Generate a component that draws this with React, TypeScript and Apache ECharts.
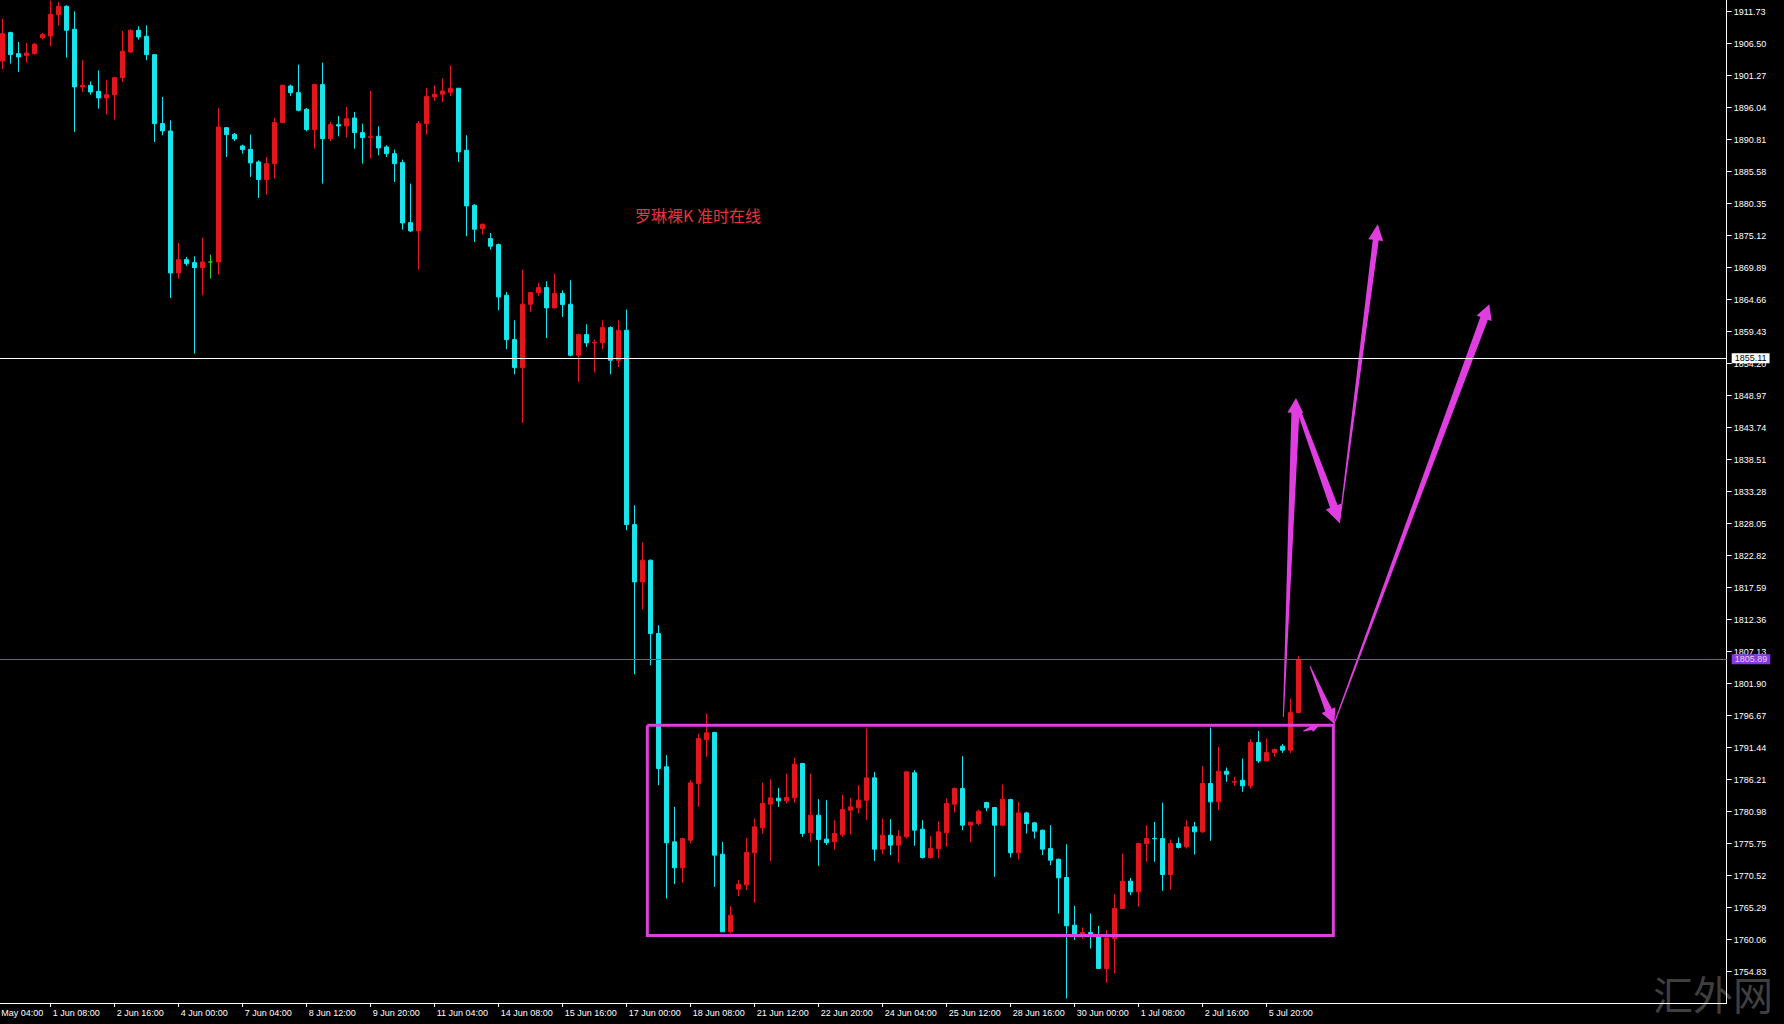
import React, { useEffect, useRef } from "react";
import * as echarts from "echarts";

// ---------- data ----------
const xTickLabels = [
  "31 May 04:00", "1 Jun 08:00", "2 Jun 16:00", "4 Jun 00:00", "7 Jun 04:00", "8 Jun 12:00",
  "9 Jun 20:00", "11 Jun 04:00", "14 Jun 08:00", "15 Jun 16:00", "17 Jun 00:00", "18 Jun 08:00",
  "21 Jun 12:00", "22 Jun 20:00", "24 Jun 04:00", "25 Jun 12:00", "28 Jun 16:00", "30 Jun 00:00",
  "1 Jul 08:00", "2 Jul 16:00", "5 Jul 20:00",
];
const labelEvery = 8;
const leadBars = 2;
const slotCount = 218;

const yTicks = [
  1754.83, 1760.06, 1765.29, 1770.52, 1775.75, 1780.98, 1786.21, 1791.44, 1796.67, 1801.9,
  1807.13, 1812.36, 1817.59, 1822.82, 1828.05, 1833.28, 1838.51, 1843.74, 1848.97, 1854.2,
  1859.43, 1864.66, 1869.89, 1875.12, 1880.35, 1885.58, 1890.81, 1896.04, 1901.27, 1906.5, 1911.73,
];
const yMin = 1749.72;
const yMax = 1913.64;

// [open, close, low, high]
const candles = [
  [1903.68, 1908.14, 1902.31, 1910.59], [1908.31, 1904.71, 1903.24, 1908.45], [1904.87, 1904.33, 1901.88, 1906.78],
  [1904.55, 1904.98, 1903.4, 1906.62], [1904.87, 1906.4, 1904.71, 1906.62], [1907.49, 1907.98, 1907.16, 1908.25],
  [1907.76, 1911.3, 1906.07, 1913.55], [1911.25, 1912.61, 1909.5, 1913.3], [1912.61, 1908.69, 1904.22, 1912.77],
  [1908.85, 1899.43, 1892.07, 1911.79], [1899.43, 1899.7, 1898.61, 1903.79], [1899.7, 1898.61, 1898.17, 1900.35],
  [1898.72, 1897.63, 1895.89, 1902.15], [1897.63, 1898.17, 1894.91, 1900.52], [1898.17, 1900.95, 1894.09, 1901.1],
  [1900.95, 1905.26, 1900.24, 1908.58], [1905.15, 1908.69, 1904.98, 1908.8], [1908.69, 1907.6, 1907.16, 1909.34],
  [1907.71, 1904.71, 1903.79, 1909.5], [1904.71, 1893.44, 1890.44, 1904.8], [1893.44, 1892.24, 1891.53, 1897.79],
  [1892.24, 1869.03, 1864.95, 1893.98], [1869.03, 1871.21, 1868.11, 1873.94], [1871.21, 1870.56, 1870.18, 1871.65],
  [1870.72, 1869.9, 1855.85, 1871.76], [1869.9, 1870.83, 1865.38, 1874.81], [1870.83, 1870.83, 1868.11, 1872.03],
  [1870.83, 1892.89, 1868.76, 1896.0], [1892.78, 1891.64, 1887.99, 1892.89], [1891.69, 1890.93, 1890.6, 1891.91],
  [1889.79, 1889.19, 1888.53, 1890.0], [1889.24, 1887.01, 1884.72, 1891.64], [1887.17, 1884.29, 1881.29, 1887.44],
  [1884.29, 1886.9, 1881.83, 1887.99], [1886.9, 1893.6, 1884.45, 1894.42], [1893.6, 1899.7, 1893.5, 1899.8],
  [1899.59, 1898.5, 1897.96, 1899.81], [1898.5, 1895.61, 1895.45, 1903.08], [1895.78, 1892.46, 1892.18, 1896.0],
  [1892.46, 1899.81, 1889.35, 1899.97], [1899.81, 1890.98, 1883.63, 1903.4], [1890.98, 1893.27, 1890.55, 1893.71],
  [1893.27, 1893.05, 1891.37, 1894.69], [1893.05, 1894.25, 1891.15, 1896.16], [1894.36, 1891.97, 1889.35, 1895.34],
  [1891.97, 1891.15, 1886.9, 1893.44], [1891.2, 1891.31, 1887.72, 1898.77], [1891.37, 1889.46, 1888.26, 1893.0],
  [1889.62, 1888.53, 1887.99, 1889.9], [1888.53, 1886.9, 1883.9, 1889.19], [1887.06, 1877.2, 1876.11, 1887.55],
  [1877.26, 1875.9, 1875.73, 1883.63], [1875.9, 1893.44, 1869.58, 1893.87], [1893.44, 1897.9, 1891.64, 1899.26],
  [1897.79, 1898.23, 1897.14, 1899.7], [1898.23, 1898.77, 1896.98, 1900.79], [1898.56, 1899.21, 1897.96, 1902.97],
  [1899.21, 1888.81, 1887.18, 1899.3], [1889.08, 1879.99, 1875.03, 1891.53], [1880.1, 1876.17, 1874.1, 1880.26],
  [1876.28, 1876.99, 1875.3, 1877.1], [1874.65, 1873.4, 1872.85, 1875.57], [1873.67, 1865.11, 1862.94, 1873.83],
  [1865.39, 1858.14, 1856.56, 1865.93], [1858.14, 1853.57, 1852.48, 1861.3], [1853.57, 1863.92, 1844.52, 1869.58],
  [1863.92, 1865.82, 1862.66, 1865.93], [1865.82, 1866.64, 1865.28, 1867.46], [1866.64, 1863.32, 1858.41, 1867.67],
  [1863.32, 1865.66, 1863.21, 1868.93], [1865.66, 1863.86, 1861.85, 1866.2], [1863.92, 1855.58, 1855.42, 1867.84],
  [1855.58, 1858.96, 1851.22, 1859.12], [1858.96, 1857.6, 1856.94, 1860.65], [1857.6, 1857.71, 1852.75, 1858.14],
  [1857.65, 1860.1, 1856.56, 1861.3], [1860.1, 1854.76, 1852.48, 1860.32], [1854.76, 1859.67, 1853.68, 1861.3],
  [1859.67, 1827.91, 1826.99, 1863.04], [1827.91, 1818.54, 1803.45, 1831.07], [1818.54, 1822.08, 1814.08, 1824.97],
  [1822.08, 1810.1, 1804.92, 1822.2], [1810.1, 1788.04, 1785.32, 1811.46], [1788.32, 1775.9, 1766.8, 1790.22],
  [1776.06, 1771.81, 1769.14, 1781.78], [1771.81, 1776.6, 1769.36, 1776.7], [1776.33, 1785.7, 1775.79, 1786.14],
  [1785.59, 1792.95, 1781.78, 1793.76], [1792.78, 1793.87, 1789.95, 1797.03], [1793.93, 1773.88, 1768.71, 1794.04],
  [1774.04, 1761.35, 1761.3, 1776.06], [1761.35, 1764.08, 1761.08, 1765.55], [1768.33, 1769.14, 1767.18, 1769.8],
  [1769.03, 1774.32, 1768.16, 1776.71], [1774.26, 1778.51, 1766.09, 1779.87], [1778.35, 1782.32, 1777.42, 1785.7],
  [1782.22, 1783.25, 1772.9, 1786.3], [1783.2, 1782.76, 1781.78, 1784.88], [1782.76, 1783.31, 1782.32, 1787.23],
  [1783.25, 1788.75, 1782.43, 1789.84], [1788.86, 1777.42, 1776.88, 1788.97], [1777.53, 1780.42, 1776.06, 1787.23],
  [1780.42, 1776.44, 1772.14, 1783.03], [1776.5, 1775.95, 1775.52, 1782.87], [1776.06, 1777.42, 1774.81, 1779.6],
  [1777.2, 1781.34, 1776.88, 1783.74], [1781.23, 1781.78, 1777.26, 1783.25], [1781.62, 1782.87, 1780.69, 1785.32],
  [1782.87, 1786.52, 1779.6, 1794.58], [1786.52, 1774.86, 1772.9, 1787.5], [1774.86, 1777.15, 1774.04, 1779.87],
  [1777.15, 1775.52, 1773.88, 1779.76], [1775.52, 1776.99, 1772.63, 1777.97], [1776.88, 1787.5, 1776.6, 1787.6],
  [1787.34, 1777.97, 1775.41, 1787.77], [1778.13, 1773.5, 1773.34, 1779.6], [1773.5, 1774.97, 1773.34, 1777.04],
  [1774.97, 1777.69, 1773.34, 1779.44], [1777.53, 1782.32, 1775.24, 1783.14], [1782.22, 1784.78, 1780.85, 1784.94],
  [1784.78, 1778.78, 1777.97, 1790.06], [1778.78, 1779.27, 1775.95, 1779.33], [1779.06, 1781.07, 1778.78, 1781.34],
  [1782.49, 1781.62, 1781.07, 1782.6], [1781.67, 1778.78, 1770.34, 1781.78], [1778.78, 1783.03, 1778.62, 1785.43],
  [1782.97, 1774.26, 1773.5, 1783.1], [1774.26, 1780.79, 1773.17, 1782.59], [1780.79, 1779.05, 1777.42, 1780.96],
  [1779.16, 1777.8, 1776.6, 1779.32], [1777.96, 1774.86, 1773.88, 1778.07], [1774.97, 1773.06, 1772.24, 1778.78],
  [1773.22, 1770.17, 1764.34, 1773.33], [1770.23, 1762.33, 1750.45, 1775.67], [1762.44, 1760.97, 1759.99, 1765.6],
  [1760.8, 1761.24, 1760.26, 1762.06], [1761.24, 1760.7, 1758.63, 1764.34], [1760.8, 1755.36, 1755.3, 1762.33],
  [1755.36, 1760.37, 1753.01, 1761.62], [1760.26, 1765.16, 1754.54, 1767.5], [1765.16, 1769.63, 1765.1, 1774.15],
  [1769.63, 1767.89, 1767.34, 1770.17], [1767.89, 1775.78, 1765.43, 1775.9], [1775.78, 1776.6, 1772.79, 1778.78],
  [1776.62, 1776.55, 1772.79, 1779.32], [1776.6, 1770.72, 1768.05, 1782.48], [1770.72, 1775.78, 1768.27, 1776.44],
  [1775.78, 1775.13, 1774.97, 1776.76], [1775.24, 1778.51, 1774.97, 1779.6], [1778.51, 1777.69, 1773.99, 1779.32],
  [1777.69, 1785.59, 1777.53, 1788.42], [1785.59, 1782.59, 1776.22, 1794.74], [1782.59, 1787.6, 1781.23, 1791.58],
  [1787.6, 1787.11, 1785.86, 1788.2], [1785.81, 1785.92, 1785.21, 1786.68], [1786.13, 1785.21, 1784.23, 1789.67],
  [1785.21, 1792.29, 1784.77, 1792.83], [1792.29, 1789.29, 1788.96, 1794.19], [1789.29, 1790.65, 1789.2, 1792.94],
  [1790.65, 1791.14, 1789.95, 1791.31], [1791.69, 1791.04, 1790.6, 1792.02], [1791.04, 1797.19, 1790.6, 1799.48],
  [1797.19, 1805.89, 1797.1, 1806.4],
];

const refLevel = 1855.11;
const bidLevel = 1805.89;

// rectangle: bar-index span and price span
const boxBars = [80.58, 166.33];
const boxPrices = [1760.76, 1795.13];

// arrows: [fromBar, fromPrice, toBar, toPrice]
const arrows = [
  [160.08, 1796.47, 161.66, 1848.61],
  [162.08, 1846.32, 167.16, 1828.1],
  [167.16, 1828.84, 171.88, 1876.99],
  [166.33, 1795.03, 185.83, 1863.92],
  [163.41, 1804.77, 166.45, 1795.32],
  [162.58, 1794.16, 164.66, 1795.14],
];
// style per arrow: tail width, shaft width, head width, head length (px)
const arrowShapes = [
  [1, 8, 16, 15],
  [4, 8, 17, 18],
  [1, 6, 15, 16],
  [1, 8, 16, 15],
  [1, 7, 15, 15],
  [1, 4, 8, 9],
];

// ---------- styles ----------
const UP = "#e6141c";
const DOWN = "#16e4ee";
const DOJI = "#30d030";
const MAGENTA = "#e03ee0";
const PURPLE = "#6d4fe6";
const AXIS_FONT = "'Liberation Sans', Arial, sans-serif";
const OFFSET_X = 40;

const categories = Array.from({ length: slotCount }, (_, i) =>
  i % labelEvery === 0 && i / labelEvery < xTickLabels.length ? xTickLabels[i / labelEvery] : `b${i}`
);
const showTick = (i: number) => i % labelEvery === 0 && i / labelEvery < xTickLabels.length;

export default function App() {
  const ref = useRef<HTMLDivElement>(null);
  useEffect(() => {
    if (!ref.current) return;
    const chart = echarts.init(ref.current, null, { renderer: "svg" });
    const candleData = candles.map((c, k) => [categories[k + leadBars], c[0], c[1], c[2], c[3]]);
    const boxLine = [
      [boxBars[0], boxPrices[1]],
      [boxBars[1], boxPrices[1]],
      [boxBars[1], boxPrices[0]],
      [boxBars[0], boxPrices[0]],
      [boxBars[0], boxPrices[1]],
    ];
    const option: any = {
      animation: false,
      backgroundColor: "#000000",
      grid: { left: 22.7, top: 0, width: 1744, height: 1003, containLabel: false },
      xAxis: [
        {
          type: "category",
          data: categories,
          boundaryGap: true,
          axisLine: { show: true, onZero: false, lineStyle: { color: "#ffffff", width: 1 } },
          axisTick: {
            show: true,
            alignWithLabel: true,
            interval: (i: number) => showTick(i),
            length: 4,
            lineStyle: { color: "#ffffff" },
          },
          axisLabel: {
            interval: (i: number) => showTick(i),
            formatter: (v: string) => v,
            align: "left",
            margin: 5,
            padding: [0, 0, 0, 2],
            color: "#ffffff",
            fontSize: 9,
            fontFamily: AXIS_FONT,
          },
          splitLine: { show: false },
        },
        {
          type: "value",
          show: false,
          min: -leadBars - 0.5,
          max: slotCount - leadBars - 0.5,
          axisLine: { show: false, onZero: false },
          axisTick: { show: false },
          axisLabel: { show: false },
          splitLine: { show: false },
        },
      ],
      yAxis: {
        type: "value",
        position: "right",
        min: yMin,
        max: yMax,
        splitLine: { show: false },
        minorTick: { show: false },
        axisLine: { show: true, onZero: false, lineStyle: { color: "#ffffff", width: 1 } },
        axisTick: { show: true, inside: false, length: 5, customValues: yTicks, lineStyle: { color: "#ffffff" } },
        axisLabel: {
          customValues: yTicks,
          formatter: (v: number) => v.toFixed(2),
          margin: 7,
          color: "#ffffff",
          fontSize: 9,
          fontFamily: AXIS_FONT,
        },
      },
      series: [
        {
          type: "candlestick",
          xAxisIndex: 0,
          yAxisIndex: 0,
          data: candleData,
          encode: { x: 0, y: [1, 2, 3, 4] },
          barWidth: 4,
          itemStyle: {
            color: UP,
            color0: DOWN,
            borderColor: UP,
            borderColor0: DOWN,
            borderColorDoji: DOJI,
            borderWidth: 1,
          },
          markLine: {
            silent: true,
            symbol: ["none", "none"],
            data: [
              {
                yAxis: refLevel,
                lineStyle: { color: "#ffffff", width: 1, type: "solid" },
                label: {
                  show: true,
                  position: "end",
                  distance: 5,
                  formatter: (p: any) => Number(p.value).toFixed(2),
                  backgroundColor: "#ffffff",
                  color: "#000000",
                  padding: [1, 3, 0, 3],
                  fontSize: 9,
                  fontFamily: AXIS_FONT,
                },
              },
              {
                yAxis: bidLevel,
                lineStyle: { color: PURPLE, width: 1, type: "solid" },
                label: {
                  show: true,
                  position: "end",
                  distance: 5,
                  formatter: (p: any) => Number(p.value).toFixed(2),
                  backgroundColor: "#8a36e8",
                  color: "#e4d4ff",
                  padding: [1, 3, 0, 3],
                  fontSize: 9,
                  fontFamily: AXIS_FONT,
                },
              },
            ],
          },
        },
        {
          type: "line",
          xAxisIndex: 1,
          yAxisIndex: 0,
          data: boxLine,
          symbol: "none",
          silent: true,
          lineStyle: { color: MAGENTA, width: 3, join: "miter" },
        },
        {
          type: "custom",
          xAxisIndex: 1,
          yAxisIndex: 0,
          silent: true,
          clip: false,
          data: arrows,
          encode: { x: [0, 2], y: [1, 3] },
          renderItem: (params: any, api: any) => {
            const i = params.dataIndex;
            const p1 = api.coord([api.value(0), api.value(1)]);
            const p2 = api.coord([api.value(2), api.value(3)]);
            const [tw, sw, hw, hl] = arrowShapes[i];
            const dx = p2[0] - p1[0];
            const dy = p2[1] - p1[1];
            const len = Math.hypot(dx, dy) || 1;
            const ux = dx / len;
            const uy = dy / len;
            const nx = -uy;
            const ny = ux;
            const bx = p2[0] - ux * hl;
            const by = p2[1] - uy * hl;
            const pts = [
              [p1[0] + (nx * tw) / 2, p1[1] + (ny * tw) / 2],
              [bx + (nx * sw) / 2, by + (ny * sw) / 2],
              [bx + (nx * hw) / 2, by + (ny * hw) / 2],
              [p2[0], p2[1]],
              [bx - (nx * hw) / 2, by - (ny * hw) / 2],
              [bx - (nx * sw) / 2, by - (ny * sw) / 2],
              [p1[0] - (nx * tw) / 2, p1[1] - (ny * tw) / 2],
            ];
            return { type: "polygon", shape: { points: pts }, style: { fill: MAGENTA } };
          },
        },
      ],
      graphic: [
        {
          type: "text",
          x: 635 + OFFSET_X,
          y: 214.5,
          style: {
            text: "罗琳裸K 准时在线",
            fill: "#e8333a",
            font: "16px 'Noto Sans CJK SC', sans-serif",
            verticalAlign: "middle",
          },
        },
        {
          type: "text",
          x: 1653 + OFFSET_X,
          y: 993,
          style: {
            text: "汇外网",
            fill: "rgba(120,120,120,0.55)",
            font: "40px 'Noto Sans CJK SC', sans-serif",
            verticalAlign: "middle",
          },
        },
      ],
    };
    chart.setOption(option);
    return () => chart.dispose();
  }, []);
  return (
    <div
      ref={ref}
      style={{
        position: "absolute",
        left: -OFFSET_X,
        top: 0,
        width: 1784 + OFFSET_X,
        height: 1024,
        background: "#000",
      }}
    />
  );
}
